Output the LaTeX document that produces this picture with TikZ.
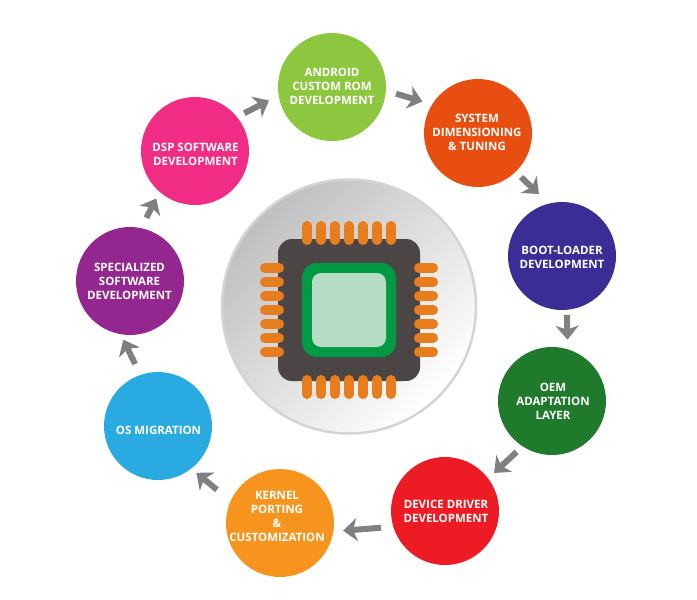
\documentclass[tikz,border=0pt]{standalone}
\usepackage{fontspec}
\setmainfont{Open Sans}
\usetikzlibrary{arrows.meta}
\definecolor{cAndroid}{HTML}{8DC63F}
\definecolor{cSystem}{HTML}{E84E0F}
\definecolor{cBoot}{HTML}{3A2E96}
\definecolor{cOem}{HTML}{1F7A2B}
\definecolor{cDevice}{HTML}{ED1C24}
\definecolor{cKernel}{HTML}{F7941E}
\definecolor{cOs}{HTML}{29ABE2}
\definecolor{cSpec}{HTML}{93278F}
\definecolor{cDsp}{HTML}{F12C84}
\definecolor{cPin}{HTML}{E87D1E}
\definecolor{cBody}{HTML}{4B4546}
\definecolor{cGreen}{HTML}{009A44}
\definecolor{cCore}{HTML}{B7DCC6}
\tikzset{
  stagenode/.style={circle,minimum size=108pt,inner sep=0pt,outer sep=0pt},
  stagetext/.style={inner sep=0pt,outer sep=0pt,text=white,
    font=\fontsize{11.5}{14}\selectfont\bfseries,align=center},
  flow/.style={draw=black!50,line width=6pt,
    -{Stealth[length=14pt,width=23pt,inset=4pt]}},
  pin/.style={draw=cPin,line width=9.5pt,line cap=round},
}
\begin{document}
\begin{tikzpicture}[x=1pt,y=-1pt]
\useasboundingbox (0,0) rectangle (697,600);
% central disc
\shade[top color=black!25,bottom color=white,shading angle=45] (349,306.5) circle (127);
\draw[draw=black!17,line width=2.5pt] (349,306.5) circle (127);
% chip body
\fill[cBody,rounded corners=14pt] (278,239) rectangle (420,381);
% chip pins
\foreach \p in {307,321,335,349,363,377,391}{
  \draw[pin] (\p,225.75) -- (\p,240.25);
  \draw[pin] (\p,379.75) -- (\p,394.25);
}
\foreach \p in {268,282,296,310,324,338,352}{
  \draw[pin] (264.75,\p) -- (279.25,\p);
  \draw[pin] (418.75,\p) -- (433.25,\p);
}
\fill[cGreen,rounded corners=15pt] (302,263) rectangle (396,357);
\fill[cCore,rounded corners=9pt] (312,273) rectangle (386,347);
% stages
\node[stagenode,fill=cAndroid] (android) at (332,87) {};
\node[stagenode,fill=cSystem] (system) at (478,133) {};
\node[stagenode,fill=cBoot] (boot) at (562,256) {};
\node[stagenode,fill=cOem] (oem) at (552,401) {};
\node[stagenode,fill=cDevice] (device) at (445,511) {};
\node[stagenode,fill=cKernel] (kernel) at (280,523) {};
\node[stagenode,fill=cOs] (os) at (158,426) {};
\node[stagenode,fill=cSpec] (spec) at (130,281) {};
\node[stagenode,fill=cDsp] (dsp) at (195,151) {};
% stage texts
\node[stagetext] (androidtext) at (332,86) {ANDROID\\CUSTOM ROM\\DEVELOPMENT};
\node[stagetext] (systemtext) at (477,132) {SYSTEM\\DIMENSIONING\\\& TUNING};
\node[stagetext] (boottext) at (562,257) {BOOT-LOADER\\DEVELOPMENT};
\node[stagetext] (oemtext) at (553,401) {OEM\\ADAPTATION\\LAYER};
\node[stagetext] (devicetext) at (446,511) {DEVICE DRIVER\\DEVELOPMENT};
\node[stagetext] (kerneltext) at (277,516) {KERNEL\\PORTING\\\&\\CUSTOMIZATION};
\node[stagetext] (ostext) at (158.5,430) {OS MIGRATION};
\node[stagetext] (spectext) at (129.5,281) {SPECIALIZED\\SOFTWARE\\DEVELOPMENT};
\node[stagetext] (dsptext) at (195.5,154) {DSP SOFTWARE\\DEVELOPMENT};
% connectors
\draw[flow,shorten <=8.3pt,shorten >=10.9pt] (dsp.39.7) -- (android.189.9);
\draw[flow,shorten <=10.6pt,shorten >=10.2pt] (android.-4.1) -- (system.148.8);
\draw[flow,shorten <=7.6pt,shorten >=13.8pt] (system.-46) -- (boot.104);
\draw[flow,shorten <=5.1pt,shorten >=9.7pt] (boot.-85.8) -- (oem.73.9);
\draw[flow,shorten <=8.2pt,shorten >=8.1pt] (oem.237.5) -- (device.37.1);
\draw[flow,shorten <=12.4pt,shorten >=9.8pt] (device.197.2) -- (kernel.-9.4);
\draw[flow,shorten <=17.7pt,shorten >=6.6pt] (kernel.156.1) -- (os.-52.4);
\draw[flow,shorten <=12.2pt,shorten >=6.2pt] (os.109.4) -- (spec.260.9);
\draw[flow,shorten <=11.6pt,shorten >=7.5pt] (spec.78.9) -- (dsp.229.7);
\end{tikzpicture}
\end{document}
